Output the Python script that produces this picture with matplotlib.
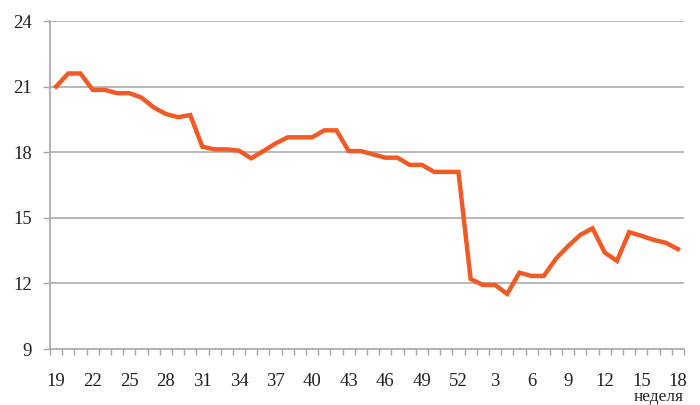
import numpy as np
import matplotlib
matplotlib.use("Agg")
import matplotlib.pyplot as plt
from matplotlib.ticker import FixedLocator

weeks = list(range(19, 53)) + list(range(1, 19))
values = [21.0, 21.6, 21.6, 20.85, 20.85, 20.7, 20.7, 20.5, 20.05, 19.75,
          19.6, 19.7, 18.25, 18.13, 18.13, 18.07, 17.72, 18.05, 18.4, 18.68,
          18.68, 18.68, 19.0, 19.0, 18.05, 18.05, 17.9, 17.75, 17.75, 17.42,
          17.42, 17.1, 17.1, 17.1,
          12.2, 11.93, 11.93, 11.52, 12.49, 12.34, 12.34, 13.13, 13.71, 14.22,
          14.52, 13.41, 13.03, 14.34, 14.18, 13.99, 13.86, 13.57]
yticks = [9, 12, 15, 18, 21, 24]
xlabel_text = "неделя"

plt.rcParams['font.family'] = ['Liberation Serif', 'DejaVu Serif']

fig = plt.figure(figsize=(7, 4.05), dpi=100)
ax = fig.add_axes([50/700, 1-349/405, 634/700, 328/405])

x = np.arange(len(weeks))
ax.plot(x, values, color='#F15A24', lw=3.2, solid_joinstyle='miter', zorder=3)

ax.set_xlim(-0.5, len(weeks) - 0.5)
ax.set_ylim(9, 24)
ax.set_yticks(yticks)
ax.set_yticklabels([str(t) for t in yticks])
for t in yticks[1:]:
    ax.axhline(t, color='#ababab', lw=1.2, zorder=1)

major = list(range(0, len(weeks), 3))
ax.set_xticks(major)
ax.set_xticklabels([str(weeks[i]) for i in major])
ax.xaxis.set_minor_locator(FixedLocator(np.arange(-0.5, len(weeks), 1.0)))

for s in ['top', 'right']:
    ax.spines[s].set_visible(False)
for s in ['left', 'bottom']:
    ax.spines[s].set_color('#a6a6a6')
    ax.spines[s].set_linewidth(1.2)

ax.tick_params(axis='x', which='major', length=0, pad=17, labelsize=13.5, colors='#222222')
ax.tick_params(axis='x', which='minor', length=4.5, width=1, color='#a6a6a6', direction='out')
ax.tick_params(axis='y', length=5, width=1, color='#a6a6a6', pad=8, labelsize=13.5, labelcolor='#222222')

fig.text(684/700, 1-397/405, xlabel_text, ha='right', va='center', fontsize=12.5, color='#222222')

fig.savefig('out.png', dpi=100)
